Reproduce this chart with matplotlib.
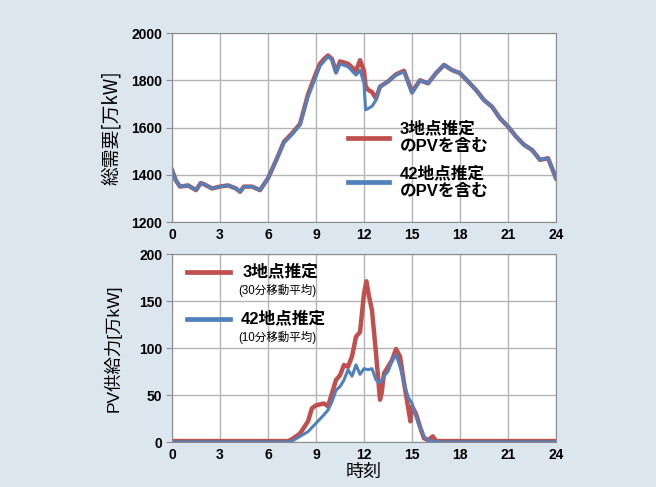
"""Total demand and PV supply, 3-site vs 42-site estimates."""

import matplotlib
matplotlib.use("Agg")
import matplotlib.pyplot as plt

plt.rcParams["font.family"] = ["Liberation Sans", "Noto Sans CJK JP", "DejaVu Sans"]

# --- data ---
hours_top = [0, 0.25, 0.5, 1, 1.5, 1.8, 2, 2.5, 3, 3.5, 4, 4.25, 4.5, 5, 5.5, 5.75,
             6, 6.5, 7, 7.5, 8, 8.5, 9, 9.25, 9.5, 9.75, 10, 10.25, 10.5, 11,
             11.5, 11.75, 12, 12.1, 12.25, 12.5, 12.75, 13, 13.5, 14, 14.5, 15,
             15.5, 16, 16.5, 17, 17.5, 18, 18.5, 19, 19.5, 20, 20.5, 21, 21.5,
             22, 22.5, 23, 23.5, 24]
demand_42 = [1420, 1375, 1350, 1355, 1335, 1365, 1360, 1342, 1350, 1355, 1342, 1328,
             1350, 1350, 1335, 1360, 1385, 1460, 1535, 1570, 1610, 1730, 1815, 1860,
             1880, 1900, 1887, 1830, 1870, 1857, 1822, 1843, 1787, 1675, 1680, 1690,
             1716, 1773, 1795, 1822, 1836, 1745, 1800, 1787, 1830, 1865, 1843, 1830,
             1795, 1759, 1716, 1688, 1639, 1604, 1562, 1527, 1505, 1463, 1470, 1385]
demand_3 = [1420, 1375, 1350, 1355, 1335, 1365, 1360, 1342, 1350, 1355, 1342, 1328,
            1350, 1350, 1335, 1360, 1385, 1460, 1540, 1575, 1615, 1740, 1830, 1870,
            1890, 1905, 1890, 1835, 1880, 1870, 1840, 1885, 1840, 1775, 1760, 1750,
            1723, 1773, 1795, 1825, 1840, 1750, 1800, 1787, 1830, 1865, 1843, 1830,
            1795, 1759, 1716, 1688, 1639, 1604, 1562, 1527, 1505, 1463, 1470, 1385]

hours_pv3 = [0, 7.25, 7.5, 8, 8.5, 8.75, 9, 9.5, 9.75, 10, 10.25, 10.5, 10.75, 11,
             11.25, 11.5, 11.75, 12, 12.15, 12.3, 12.5, 12.75, 13, 13.1, 13.25,
             13.5, 13.75, 14, 14.25, 14.5, 14.9, 15, 15.25, 15.5, 15.75, 16, 16.3,
             16.5, 24]
pv_3 = [1, 1, 3, 9, 22, 36, 39, 41, 38, 52, 66, 71, 82, 80, 91, 112, 117, 158, 171,
        156, 140, 94, 45, 52, 73, 80, 87, 99, 91, 63, 22, 38, 30, 16, 4, 2, 6, 1, 1]

hours_pv42 = [0, 7.25, 7.5, 8, 8.5, 9, 9.5, 9.75, 10, 10.25, 10.5, 10.75, 11, 11.25,
              11.5, 11.75, 12, 12.25, 12.5, 12.75, 13, 13.25, 13.5, 13.75, 14, 14.25,
              14.5, 14.75, 15, 15.25, 15.5, 15.75, 16, 16.5, 24]
pv_42 = [0, 0, 1, 6, 11, 20, 29, 34, 43, 55, 59, 66, 77, 70, 82, 72, 78, 77, 78, 66,
         63, 70, 75, 86, 93, 80, 63, 48, 41, 27, 16, 6, 2, 0, 0]

RED = "#c0504d"
BLUE = "#4f81bd"
BG = "#dce6ee"

fig = plt.figure(figsize=(6.56, 4.87), dpi=100, facecolor=BG)
ax1 = fig.add_axes([0.2622, 0.5441, 0.5854, 0.3881])
ax2 = fig.add_axes([0.2622, 0.0924, 0.5854, 0.3860])


def style_axes(ax, yticks):
    ax.set_facecolor("white")
    ax.set_xlim(0, 24)
    ax.set_xticks(range(0, 25, 3))
    ax.set_yticks(yticks)
    ax.set_ylim(yticks[0], yticks[-1])
    ax.grid(True, color="#b4b4b4", linewidth=1.0)
    ax.set_axisbelow(True)
    for s in ax.spines.values():
        s.set_color("#8c8c8c")
    ax.tick_params(axis="x", length=0, pad=4)
    ax.tick_params(axis="y", length=4, color="#8c8c8c", pad=3)
    for lab in ax.get_xticklabels() + ax.get_yticklabels():
        lab.set_fontweight("bold")
        lab.set_fontsize(10)


# top panel: total demand
ax1.plot(hours_top, demand_3, color=RED, lw=3.2, solid_joinstyle="round")
ax1.plot(hours_top, demand_42, color=BLUE, lw=2.2, solid_joinstyle="round")
style_axes(ax1, [1200, 1400, 1600, 1800, 2000])
ax1.set_ylabel("総需要[万kW]", fontsize=13.5, family=["Noto Sans CJK JP"])
ax1.yaxis.set_label_coords(-0.13, 0.5)

leg_font = dict(fontsize=12, fontweight="bold", family=["Liberation Sans", "Noto Sans CJK JP"],
                transform=ax1.transAxes, va="center", linespacing=1.25)
ax1.plot([0.458, 0.566], [0.447, 0.447], color=RED, lw=3.4, transform=ax1.transAxes)
ax1.plot([0.458, 0.566], [0.212, 0.212], color=BLUE, lw=3.4, transform=ax1.transAxes)
ax1.text(0.593, 0.447, "3地点推定\nのPVを含む", **leg_font)
ax1.text(0.593, 0.212, "42地点推定\nのPVを含む", **leg_font)

# bottom panel: PV supply
ax2.plot(hours_pv3, pv_3, color=RED, lw=3.2, solid_joinstyle="round")
ax2.plot(hours_pv42, pv_42, color=BLUE, lw=2.2, solid_joinstyle="round")
style_axes(ax2, [0, 50, 100, 150, 200])
ax2.set_ylabel("PV供給力[万kW]", fontsize=12.5, family=["Liberation Sans", "Noto Sans CJK JP"])
ax2.yaxis.set_label_coords(-0.13, 0.5)
ax2.set_xlabel("時刻", fontsize=13, family=["Noto Sans CJK JP"], labelpad=1)

t = ax2.transAxes
ax2.plot([0.039, 0.151], [0.905, 0.905], color=RED, lw=3.4, transform=t)
ax2.plot([0.039, 0.151], [0.655, 0.655], color=BLUE, lw=3.4, transform=t)
big = dict(fontsize=12, fontweight="bold", family=["Liberation Sans", "Noto Sans CJK JP"],
           transform=t, va="center")
small = dict(fontsize=8.3, family=["Liberation Sans", "Noto Sans CJK JP"], transform=t, va="center")
ax2.text(0.185, 0.905, "3地点推定", **big)
ax2.text(0.172, 0.805, "(30分移動平均)", **small)
ax2.text(0.18, 0.655, "42地点推定", **big)
ax2.text(0.172, 0.555, "(10分移動平均)", **small)

fig.savefig("out.png", dpi=100, facecolor=BG)
